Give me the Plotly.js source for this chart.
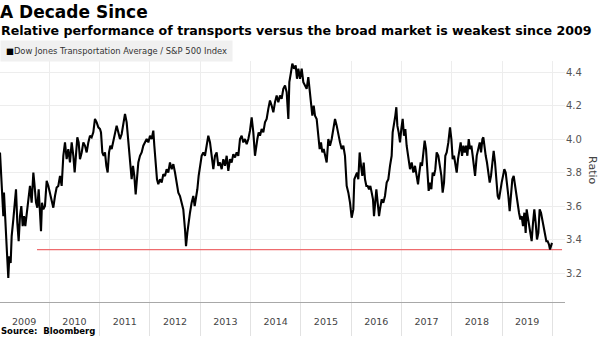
<!DOCTYPE html>
<html>
<head>
<meta charset="utf-8">
<script src="https://cdn.plot.ly/plotly-3.0.1.min.js"></script>
<style>html,body{margin:0;padding:0;background:#fff;}#chart{width:600px;height:337px;}</style>
</head>
<body>
<div id="chart"></div>
<script>
// Decimal-year positions of the series
const years = [
2009.020,2009.053,2009.086,2009.099,2009.119,2009.152,2009.185,2009.205,2009.232,2009.252,
2009.285,2009.312,2009.338,2009.364,2009.391,2009.417,2009.444,2009.471,2009.497,2009.523,
2009.550,2009.583,2009.616,2009.649,2009.683,2009.702,2009.736,2009.762,2009.789,2009.815,
2009.835,2009.855,2009.881,2009.914,2009.948,2009.981,2010.014,2010.047,2010.080,2010.113,
2010.146,2010.179,2010.213,2010.246,2010.279,2010.312,2010.345,2010.378,2010.411,2010.445,
2010.478,2010.504,2010.531,2010.557,2010.584,2010.610,2010.644,2010.677,2010.710,2010.743,
2010.776,2010.809,2010.842,2010.875,2010.908,2010.942,2010.975,2011.008,2011.028,2011.054,
2011.081,2011.107,2011.134,2011.160,2011.187,2011.213,2011.240,2011.273,2011.306,2011.339,
2011.372,2011.405,2011.439,2011.472,2011.505,2011.538,2011.571,2011.604,2011.637,2011.664,
2011.690,2011.717,2011.743,2011.770,2011.803,2011.836,2011.869,2011.902,2011.936,2011.969,
2012.002,2012.035,2012.068,2012.088,2012.114,2012.141,2012.167,2012.201,2012.234,2012.267,
2012.300,2012.333,2012.366,2012.399,2012.433,2012.466,2012.499,2012.532,2012.565,2012.598,
2012.631,2012.664,2012.698,2012.718,2012.744,2012.771,2012.797,2012.830,2012.863,2012.890,
2012.916,2012.943,2012.969,2012.996,2013.029,2013.062,2013.095,2013.128,2013.161,2013.195,
2013.228,2013.261,2013.294,2013.327,2013.360,2013.393,2013.427,2013.460,2013.493,2013.526,
2013.559,2013.592,2013.625,2013.658,2013.692,2013.725,2013.758,2013.791,2013.824,2013.857,
2013.890,2013.924,2013.957,2013.990,2014.023,2014.056,2014.089,2014.109,2014.136,2014.162,
2014.189,2014.222,2014.255,2014.288,2014.321,2014.354,2014.387,2014.420,2014.454,2014.487,
2014.520,2014.553,2014.586,2014.619,2014.652,2014.686,2014.719,2014.752,2014.772,2014.805,
2014.831,2014.865,2014.898,2014.924,2014.951,2014.984,2015.017,2015.050,2015.083,2015.116,
2015.149,2015.176,2015.203,2015.229,2015.256,2015.282,2015.315,2015.349,2015.375,2015.401,
2015.428,2015.455,2015.481,2015.514,2015.547,2015.580,2015.614,2015.647,2015.680,2015.713,
2015.746,2015.779,2015.812,2015.845,2015.878,2015.912,2015.945,2015.978,2016.011,2016.044,
2016.064,2016.090,2016.117,2016.143,2016.170,2016.197,2016.223,2016.250,2016.276,2016.303,
2016.329,2016.356,2016.382,2016.409,2016.435,2016.455,2016.475,2016.502,2016.528,2016.555,
2016.574,2016.607,2016.640,2016.673,2016.707,2016.740,2016.773,2016.806,2016.826,2016.852,
2016.879,2016.899,2016.919,2016.945,2016.972,2016.998,2017.025,2017.051,2017.078,2017.104,
2017.138,2017.171,2017.204,2017.237,2017.270,2017.303,2017.330,2017.356,2017.383,2017.409,
2017.436,2017.462,2017.489,2017.515,2017.542,2017.568,2017.595,2017.621,2017.648,2017.674,
2017.701,2017.734,2017.767,2017.794,2017.820,2017.847,2017.873,2017.900,2017.933,2017.966,
2017.993,2018.019,2018.046,2018.072,2018.099,2018.125,2018.152,2018.178,2018.205,2018.232,
2018.258,2018.285,2018.311,2018.338,2018.364,2018.391,2018.417,2018.444,2018.464,2018.497,
2018.530,2018.557,2018.583,2018.610,2018.629,2018.649,2018.676,2018.701,2018.728,2018.755,
2018.781,2018.808,2018.834,2018.861,2018.887,2018.914,2018.940,2018.967,2018.993,2019.020,
2019.046,2019.073,2019.099,2019.126,2019.152,2019.179,2019.205,2019.232,2019.258,2019.285,
2019.311,2019.338,2019.364,2019.391,2019.417,2019.444,2019.470,2019.490,2019.510,2019.536,
2019.563,2019.589,2019.616,2019.642,2019.669,2019.695,2019.722,2019.748,2019.775,2019.801,
2019.828,2019.854,2019.881,2019.907,2019.934,2019.954,2019.974,2019.993
];

// Dow Jones Transportation Average / S&P 500 Index ratio
const ratio = [
3.92,3.68,3.54,3.68,3.52,3.36,3.17,3.30,3.26,3.42,
3.52,3.64,3.70,3.50,3.39,3.54,3.60,3.48,3.54,3.48,
3.56,3.66,3.72,3.62,3.80,3.74,3.62,3.59,3.70,3.56,
3.45,3.62,3.58,3.60,3.75,3.72,3.68,3.64,3.59,3.66,
3.71,3.72,3.78,3.72,3.90,3.98,3.88,3.94,3.86,3.98,
3.90,3.80,3.92,4.01,3.98,3.88,3.92,3.98,3.96,3.92,
3.98,4.02,4.01,4.04,4.12,4.10,4.07,4.06,4.04,3.92,
3.90,3.92,3.84,3.80,3.92,3.96,3.94,3.99,4.02,4.08,
4.04,4.00,4.03,4.10,4.15,4.10,3.98,3.90,3.76,3.84,
3.78,3.67,3.78,3.86,3.90,3.92,3.96,3.98,4.00,3.98,
4.02,4.00,4.05,3.96,3.88,3.76,3.73,3.76,3.74,3.79,
3.78,3.82,3.80,3.86,3.82,3.85,3.80,3.74,3.68,3.66,
3.62,3.58,3.46,3.36,3.44,3.52,3.56,3.62,3.66,3.60,
3.64,3.70,3.78,3.84,3.90,3.92,3.90,3.96,4.02,3.98,
3.90,3.82,3.90,3.92,3.84,3.86,3.82,3.88,3.84,3.90,
3.81,3.88,3.86,3.91,3.89,3.92,3.90,4.00,4.02,3.98,
4.00,3.97,4.00,4.05,4.13,4.04,3.90,3.96,4.00,4.04,
4.02,4.06,4.04,4.10,4.12,4.18,4.23,4.20,4.16,4.22,
4.26,4.22,4.26,4.24,4.30,4.32,4.28,4.12,4.34,4.40,
4.45,4.42,4.44,4.36,4.42,4.36,4.42,4.34,4.32,4.30,
4.37,4.28,4.22,4.14,4.20,4.14,4.12,4.02,3.94,3.98,
3.92,3.94,3.90,3.86,4.00,3.96,4.00,4.06,4.12,4.08,
4.02,3.98,3.94,3.96,3.90,3.72,3.68,3.62,3.53,3.58,
3.76,3.78,3.80,3.76,3.92,3.84,3.78,3.86,3.76,3.72,
3.72,3.70,3.72,3.68,3.64,3.54,3.64,3.70,3.62,3.54,
3.58,3.64,3.62,3.66,3.74,3.76,3.84,3.90,4.04,4.08,
4.14,4.19,4.08,4.04,3.98,4.06,4.12,4.02,4.06,3.96,
3.90,3.82,3.86,3.80,3.84,3.78,3.73,3.80,3.86,3.84,
3.90,3.99,3.94,3.80,3.69,3.74,3.70,3.80,3.78,3.82,
3.92,3.90,3.84,3.78,3.68,3.74,3.90,3.92,3.98,4.07,
4.00,3.88,3.90,3.84,3.80,3.88,3.94,3.98,3.90,3.96,
3.92,3.96,3.90,4.00,3.94,3.96,3.90,3.80,3.78,3.90,
3.94,3.98,3.92,4.00,4.01,3.95,3.90,3.86,3.80,3.74,
3.78,3.86,3.93,3.86,3.76,3.66,3.64,3.70,3.74,3.78,
3.82,3.80,3.74,3.66,3.57,3.68,3.76,3.78,3.72,3.66,
3.62,3.56,3.52,3.54,3.48,3.56,3.44,3.58,3.54,3.48,
3.42,3.39,3.50,3.58,3.50,3.40,3.44,3.58,3.56,3.52,
3.48,3.42,3.39,3.39,3.37,3.34,3.36,3.38
];

const seriesName = 'Dow Jones Transportation Average / S&P 500 Index';
const yearBoundaries = [2010, 2011, 2012, 2013, 2014, 2015, 2016, 2017, 2018, 2019, 2020];
const yearMids = [2009.5, 2010.5, 2011.5, 2012.5, 2013.5, 2014.5, 2015.5, 2016.5, 2017.5, 2018.5, 2019.5];
const yearLabels = ['2009', '2010', '2011', '2012', '2013', '2014', '2015', '2016', '2017', '2018', '2019'];
const yTicks = [3.2, 3.4, 3.6, 3.8, 4.0, 4.2, 4.4];
const refLineX = [2009.756, 2020.193];
const refLineY = [3.34, 3.34];

const xRange = [2009.02, 2020.252];
const yRange = [3.027, 4.466];
const FONT = 'DejaVu Sans';

const traces = [
  {
    x: refLineX, y: refLineY, xaxis: 'x', yaxis: 'y',
    type: 'scatter', mode: 'lines',
    line: {color: '#ee6b6e', width: 1.1},
    hoverinfo: 'skip', showlegend: false
  },
  {
    // invisible carrier so the label axis is drawn
    x: refLineX, y: refLineY, xaxis: 'x2', yaxis: 'y',
    type: 'scatter', mode: 'lines',
    line: {color: 'rgba(0,0,0,0)', width: 0},
    hoverinfo: 'skip', showlegend: false
  },
  {
    x: years, y: ratio, xaxis: 'x', yaxis: 'y',
    type: 'scatter', mode: 'lines', name: seriesName,
    line: {color: '#000000', width: 2.1},
    showlegend: false
  }
];

const plotTop = 61, plotBottom = 302, plotH = plotBottom - plotTop, plotW = 565;
function py(pix) { return (plotBottom - pix) / plotH; }
function px(pix) { return pix / plotW; }

const layout = {
  width: 600, height: 337,
  margin: {l: 0, r: 35, t: plotTop, b: 337 - plotBottom, autoexpand: false},
  paper_bgcolor: '#ffffff', plot_bgcolor: '#ffffff',
  showlegend: false,
  title: {
    text: '<b>A Decade Since</b>',
    xref: 'container', x: 0, xanchor: 'left',
    yref: 'container', y: 1 - 12 / 337, yanchor: 'middle',
    pad: {l: 0, r: 0, t: 0, b: 0},
    font: {family: FONT, size: 17, color: '#000000'}
  },
  xaxis: {
    type: 'linear', range: xRange,
    tickmode: 'array', tickvals: yearBoundaries, showticklabels: false,
    ticks: 'outside', ticklen: 33, tickcolor: '#e2e2e2', tickwidth: 1,
    showgrid: true, gridcolor: '#ededed', gridwidth: 1,
    zeroline: false, showline: true, linecolor: '#a8a8a8', linewidth: 1,
    fixedrange: true
  },
  xaxis2: {
    type: 'linear', range: xRange, overlaying: 'x', anchor: 'y', side: 'bottom',
    tickmode: 'array', tickvals: yearMids, ticktext: yearLabels,
    ticks: 'outside', ticklen: 11, tickcolor: 'rgba(0,0,0,0)',
    showgrid: false, zeroline: false, showline: false,
    tickfont: {family: FONT, size: 9.5, color: '#444444'},
    fixedrange: true
  },
  yaxis: {
    range: yRange, side: 'right',
    tickmode: 'array', tickvals: yTicks, tickformat: '.1f',
    ticks: '', showgrid: true, gridcolor: '#ededed', gridwidth: 1,
    zeroline: false, showline: false,
    tickfont: {family: FONT, size: 10, color: '#555555'},
    fixedrange: true
  },
  annotations: [
    {
      text: '<b>Relative performance of transports versus the broad market is weakest since 2009</b>',
      xref: 'paper', yref: 'paper', x: px(0), y: py(30), xanchor: 'left', yanchor: 'middle',
      showarrow: false, borderpad: 0,
      font: {family: FONT, size: 12.6, color: '#000000'}
    },
    {
      text: '<span style="color:#000">■</span>' + seriesName,
      xref: 'paper', yref: 'paper', x: px(0), y: py(51), xanchor: 'left', yanchor: 'middle',
      showarrow: false, bgcolor: '#f0f0f0', borderpad: 5,
      font: {family: FONT, size: 8.4, color: '#333333'}
    },
    {
      text: 'Ratio', textangle: 90,
      xref: 'paper', yref: 'paper', x: px(593), y: py(170), xanchor: 'center', yanchor: 'middle',
      showarrow: false,
      font: {family: FONT, size: 11, color: '#444444'}
    },
    {
      text: '<b>Source:  Bloomberg</b>',
      xref: 'paper', yref: 'paper', x: px(0), y: py(331), xanchor: 'left', yanchor: 'middle',
      showarrow: false, borderpad: 0,
      font: {family: FONT, size: 8.5, color: '#000000'}
    }
  ]
};

Plotly.newPlot('chart', traces, layout, {staticPlot: true, displayModeBar: false});
</script>
</body>
</html>
